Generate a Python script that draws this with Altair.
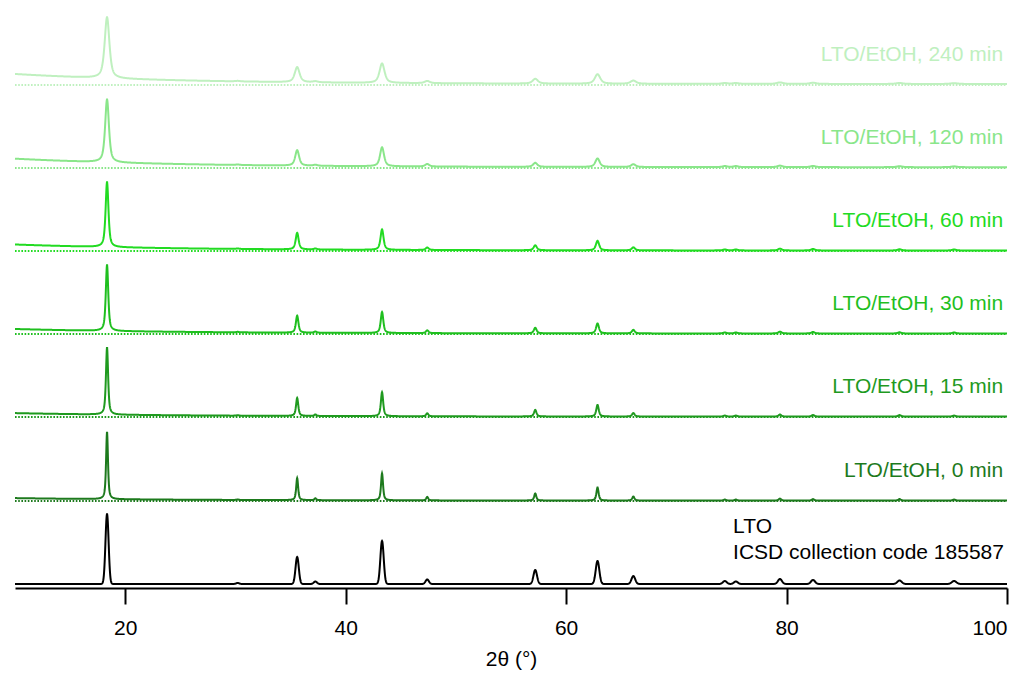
import numpy as np
import pandas as pd
import altair as alt

# Reflection positions of spinel Li4Ti5O12 (2θ, degrees)
peak_pos = [18.35, 30.2, 35.6, 37.25, 43.3, 47.4, 57.2, 62.85, 66.1, 74.4, 75.4, 79.4, 82.4, 90.25, 95.2]

# Reference pattern (ICSD 185587) peak heights
ref_heights = [70, 1, 27, 2.5, 43, 4.5, 14, 23, 8, 3, 2.5, 5, 4, 3.5, 3]

# Measured patterns: peak heights above background, per milling time
series_names = ["LTO/EtOH, 0 min", "LTO/EtOH, 15 min", "LTO/EtOH, 30 min",
                "LTO/EtOH, 60 min", "LTO/EtOH, 120 min", "LTO/EtOH, 240 min"]
series_heights = [
    [67, 0.5, 22, 1.8, 27, 3.5, 7, 13, 4, 1, 1, 2, 1.5, 1.5, 1],
    [67, 0.5, 18, 1.5, 24, 3, 6.5, 11.5, 3.5, 1, 1, 2, 1.5, 1.5, 1],
    [66, 0.5, 17, 1.2, 21, 2.8, 5.5, 10, 3.5, 1, 1, 1.8, 1.5, 1.2, 1],
    [65, 0.5, 16.5, 1, 20.5, 2.5, 5, 9.5, 3, 1, 1, 1.8, 1.5, 1.2, 1],
    [63, 0.5, 15.5, 1, 19, 2.5, 4, 8.5, 2.8, 1, 1, 1.5, 1.2, 1, 0.8],
    [61, 0.5, 15, 1, 19.5, 2.2, 4.8, 9.5, 3.2, 0.8, 0.8, 1.5, 1.2, 1, 0.8],
]
series_fwhm = [0.2, 0.23, 0.26, 0.3, 0.4, 0.5]
series_bg_amp = [2.5, 3.5, 4.5, 6, 8.5, 10]
series_bg_floor = [0.4, 0.4, 0.5, 0.5, 0.8, 1.0]
series_offsets = [87, 171, 254, 337, 420, 503]
series_colors = ["#1d7a1d", "#1f9a1f", "#1fbf1f", "#22db22", "#8ae68a", "#bff0bf"]

ref_name = "LTO ICSD 185587"
ref_offset = 4
ref_fwhm = 0.33

two_theta = np.round(np.arange(10, 100.0001, 0.02), 3)


def pseudo_voigt(x, x0, fwhm, eta):
    d = (x - x0) / fwhm
    gauss = np.exp(-4 * np.log(2) * d ** 2)
    lorentz = 1 / (1 + 4 * d ** 2)
    return eta * lorentz + (1 - eta) * gauss


def pattern(heights, fwhm, eta):
    y = np.zeros_like(two_theta)
    for x0, h in zip(peak_pos, heights):
        w = fwhm / np.cos(np.radians(x0 / 2))
        y += h * pseudo_voigt(two_theta, x0, w, eta)
    return y


frames = [pd.DataFrame({
    "x": two_theta,
    "y": np.round(ref_offset + pattern(ref_heights, ref_fwhm, 0.0), 2),
    "series": ref_name,
})]
for name, h, fw, a, b, off in zip(series_names, series_heights, series_fwhm,
                                  series_bg_amp, series_bg_floor, series_offsets):
    bg = a * np.exp(-(two_theta - 10) / 15) + b
    frames.append(pd.DataFrame({
        "x": two_theta,
        "y": np.round(off + bg + pattern(h, fw, 0.65), 2),
        "series": name,
    }))
traces = pd.concat(frames, ignore_index=True)

baselines = pd.DataFrame({"series": series_names, "y": series_offsets, "x": 10.0, "x2": 100.0})
labels = pd.DataFrame({"series": series_names,
                       "y": [o + 30 for o in series_offsets],
                       "x": 99.65})
ref_text = pd.DataFrame({"text": ["LTO", "ICSD collection code 185587"],
                         "x": [75.15, 75.15], "y": [61, 35]})

color_scale = alt.Scale(domain=[ref_name] + series_names, range=["#000000"] + series_colors)
x_scale = alt.Scale(domain=[10, 100], nice=False, zero=False)
y_scale = alt.Scale(domain=[0, 588], nice=False, zero=False)
FONT = "Liberation Sans"

x_enc = alt.X("x:Q", scale=x_scale,
              axis=alt.Axis(values=[20, 40, 60, 80, 100], title="2θ (°)", grid=False))
y_enc = alt.Y("y:Q", scale=y_scale, axis=None)
color_enc = alt.Color("series:N", scale=color_scale, legend=None)

dotted = alt.Chart(baselines).mark_rule(strokeDash=[1.6, 1.6], strokeWidth=1.8).encode(
    x=x_enc, x2="x2:Q", y=y_enc, color=color_enc
)

lines = alt.Chart(traces).mark_line(strokeWidth=2, interpolate="linear").encode(
    x=x_enc, y=y_enc, color=color_enc, detail="series:N", order="x:Q"
)

series_labels = alt.Chart(labels).mark_text(
    align="right", baseline="middle", fontSize=21, font=FONT
).encode(x=x_enc, y=y_enc, color=color_enc, text="series:N")

ref_labels = alt.Chart(ref_text).mark_text(
    align="left", baseline="middle", fontSize=21, font=FONT, color="#000000"
).encode(x=x_enc, y=y_enc, text="text:N")

chart = alt.layer(dotted, lines, series_labels, ref_labels).properties(
    width=992, height=588,
    padding={"left": 15, "right": 23, "top": 0, "bottom": 90},
    autosize=alt.AutoSizeParams(type="none"),
).configure_view(stroke=None).configure_axis(
    domainColor="#000000", domainWidth=2,
    tickColor="#000000", tickWidth=2, tickSize=16,
    labelFont=FONT, labelFontSize=21, labelColor="#000000", labelPadding=13,
    titleFont=FONT, titleFontSize=21, titleFontWeight="normal", titleColor="#000000",
    titlePadding=10,
)

chart.save("out.html", embed_options={"renderer": "svg", "actions": False})
